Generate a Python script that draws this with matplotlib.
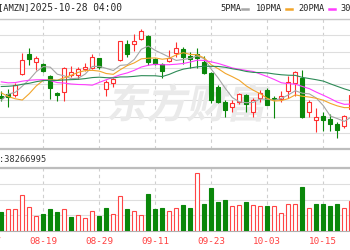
import numpy as np
import matplotlib
matplotlib.use('Agg')
import matplotlib.pyplot as plt
from matplotlib.patches import Rectangle, PathPatch
from matplotlib.lines import Line2D
from matplotlib.textpath import TextPath
from matplotlib.font_manager import FontProperties
from matplotlib.transforms import Affine2D, IdentityTransform, blended_transform_factory

# daily bars, 2025-08-11 .. 2025-10-21
open_ = [221.8, 222.2, 222.0, 227.2, 232.4, 230.3, 229.8, 226.9, 222.4, 222.8,
         227.1, 227.1, 228.6, 228.8, 231.3, 223.5, 224.9, 230.9, 234.9, 234.9,
         236.3, 237.1, 231.1, 229.8, 230.6, 232.6, 233.7, 232.0, 232.4, 230.5,
         227.5, 224.1, 220.1, 218.9, 220.1, 221.9, 217.7, 221.1, 223.2, 221.0,
         220.9, 222.9, 224.9, 226.2, 217.7, 215.5, 216.6, 215.7, 214.6, 213.9, 218.4]
high = [222.9, 223.4, 225.0, 232.8, 234.0, 231.9, 230.2, 227.1, 222.6, 229.2,
        229.4, 229.0, 230.1, 232.4, 231.5, 225.8, 226.2, 235.8, 236.0, 237.5,
        238.8, 237.3, 231.5, 230.2, 233.4, 235.6, 234.3, 232.9, 234.0, 232.0,
        227.8, 224.5, 220.7, 220.7, 222.5, 222.1, 221.1, 223.2, 223.8, 221.7,
        222.9, 226.7, 228.2, 228.3, 220.7, 218.6, 217.7, 217.0, 215.1, 216.8, 223.3]
low = [220.4, 219.0, 221.4, 227.0, 229.6, 228.3, 227.8, 220.9, 220.4, 220.4,
       226.6, 226.0, 228.1, 228.5, 228.6, 221.7, 224.1, 230.7, 231.7, 233.2,
       236.0, 229.6, 229.6, 226.4, 230.5, 231.7, 229.8, 228.8, 228.8, 227.3,
       219.9, 219.8, 216.4, 217.7, 219.6, 217.7, 216.4, 220.2, 219.4, 216.0,
       220.2, 221.2, 221.8, 216.0, 216.4, 212.6, 212.7, 212.8, 211.0, 213.6, 218.0]
close = [221.30, 221.47, 224.56, 230.98, 231.03, 231.49, 228.01, 223.81, 221.95, 228.84,
         227.94, 228.71, 229.12, 231.60, 229.00, 225.34, 225.99, 235.68, 232.33, 235.84,
         238.24, 230.33, 229.95, 228.15, 231.43, 234.05, 231.62, 231.23, 231.48, 227.63,
         220.71, 220.21, 218.15, 219.78, 222.17, 219.57, 220.63, 222.41, 219.51, 220.90,
         221.78, 225.22, 227.74, 216.37, 220.07, 216.39, 215.57, 214.47, 213.04, 216.48, 222.03]
prev_close = 222.69

# volume, millions
volume = [31.8, 37.4, 37.4, 61.2, 40.8, 26.0, 29.4, 37.4, 32.8, 37.4,
          23.8, 27.2, 21.6, 34.0, 26.0, 38.6, 29.4, 60.0, 37.4, 34.0,
          27.2, 62.4, 37.4, 38.6, 34.0, 38.6, 44.2, 38.6, 98.0, 46.4,
          72.6, 49.8, 52.2, 42.0, 44.2, 49.8, 44.2, 42.0, 43.0, 43.0,
          30.6, 46.4, 46.4, 74.8, 38.6, 46.4, 46.4, 43.0, 46.4, 38.6, 51.0]

ma5 = [220.64, 222.18, 222.63, 224.20, 225.87, 227.91, 229.21, 229.06, 227.26, 226.82,
       226.11, 226.25, 227.31, 229.24, 229.27, 228.75, 228.21, 229.52, 229.67, 231.04,
       233.62, 234.48, 233.34, 232.50, 231.62, 230.78, 231.04, 231.30, 231.96, 231.20,
       228.53, 226.25, 223.64, 221.30, 220.20, 219.98, 220.06, 220.91, 220.86, 220.60,
       221.05, 221.96, 223.03, 222.40, 222.24, 221.16, 219.23, 216.57, 215.91, 215.19, 216.32]
ma10 = [222.49, 221.54, 220.97, 220.66, 222.29, 224.27, 225.70, 225.85, 225.73, 226.34,
        227.01, 227.73, 228.19, 228.25, 228.05, 227.43, 227.23, 228.42, 229.46, 230.16,
        231.19, 231.35, 231.43, 231.09, 231.33, 232.20, 232.76, 232.32, 232.23, 231.41,
        229.66, 228.65, 227.47, 226.63, 225.70, 224.26, 223.16, 222.27, 221.08, 220.40,
        220.51, 221.01, 221.97, 221.63, 221.42, 221.10, 220.60, 219.80, 219.16, 218.71, 218.74]
ma20 = [225.30, 225.05, 225.12, 225.48, 225.72, 225.83, 225.86, 225.64, 225.12, 224.99,
        224.75, 224.63, 224.58, 224.45, 225.17, 225.85, 226.46, 227.13, 227.59, 228.25,
        229.10, 229.54, 229.81, 229.67, 229.69, 229.82, 230.00, 230.37, 230.84, 230.78,
        230.42, 230.00, 229.45, 228.86, 228.52, 228.23, 227.96, 227.30, 226.65, 225.91,
        225.08, 224.83, 224.72, 224.13, 223.56, 222.68, 221.88, 221.04, 220.12, 219.56, 219.62]
ma30 = [224.11, 224.18, 224.32, 224.69, 224.94, 225.35, 225.63, 225.68, 225.67, 225.79,
        225.87, 225.95, 226.14, 226.40, 226.50, 226.37, 226.32, 226.56, 226.57, 226.71,
        226.89, 226.87, 226.86, 226.66, 227.22, 227.97, 228.56, 228.86, 229.14, 229.30,
        229.28, 229.24, 229.03, 228.65, 228.36, 227.96, 227.72, 227.67, 227.59, 227.32,
        227.12, 227.00, 226.96, 226.45, 226.15, 225.85, 225.50, 224.80, 224.15, 223.51, 222.97]

tick_dates = ['2025-08-07', '2025-08-19', '2025-08-29', '2025-09-11', '2025-09-23', '2025-10-03', '2025-10-15']
tick_labels = ['08-07', '08-19', '08-29', '09-11', '09-23', '10-03', '10-15']

RED = '#ff3030'
GREEN = '#0a870a'
MONO = 'DejaVu Sans Mono'

x = np.arange(len(close))
tick_pos = np.busday_count('2025-08-11', tick_dates, holidays=['2025-09-01'])
xlim = (-1.3 / 7, (350 - 1.3) / 7)
ylim = (208.13, 241.38)
vlim = (0, 107.1)

fig = plt.figure(figsize=(3.5, 2.5), dpi=100)
ax = fig.add_axes([0, 0.404, 1, 0.52])
axv = fig.add_axes([0, 0.076, 1, 0.252])

for a in (ax, axv):
    a.set_xlim(*xlim)
    a.tick_params(left=False, bottom=False, labelleft=False, labelbottom=False)
    for s in ('left', 'right'):
        a.spines[s].set_visible(False)
    for p in tick_pos:
        a.axvline(p, color='#cfcfcf', lw=0.8, ls=(0, (3, 3)), zorder=0.5)

# price panel
ax.set_ylim(*ylim)
ax.set_yticks(np.linspace(ylim[0], ylim[1], 9))
ax.yaxis.grid(True, color='#dedede', lw=0.8)
ax.set_axisbelow(True)
ax.spines['top'].set_color('#c8c8c8')
ax.spines['top'].set_linewidth(1.0)
ax.spines['bottom'].set_color('#bdbdbd')
ax.spines['bottom'].set_linewidth(1.6)

# watermark
tp = TextPath((0, 0), '东方财富', size=40,
              prop=FontProperties(family='Noto Sans CJK SC', weight='bold'))
wm = PathPatch(tp, transform=Affine2D().skew_deg(12, 0).translate(106, 250 - 118) + IdentityTransform(),
               facecolor='#eaeaea', edgecolor='none', zorder=1)
ax.add_patch(wm)

w = 0.62
for i in x:
    o, h, l, c = open_[i], high[i], low[i], close[i]
    up = c >= o
    col = RED if up else GREEN
    ax.vlines(i, l, h, color=col, lw=0.8, zorder=3)
    ax.add_patch(Rectangle((i - w / 2, min(o, c)), w, max(abs(c - o), 0.15),
                           facecolor='white' if up else col, edgecolor=col, lw=0.8, zorder=4))

ax.plot(x, ma5, color='#a6a6a6', lw=0.8, zorder=5)
ax.plot(x, ma10, color='#f2a52a', lw=0.8, zorder=5)
ax.plot(x, ma20, color='#ff3cff', lw=0.8, zorder=5)
ax.plot(x, ma30, color='#2e8b57', lw=0.8, zorder=5)

# volume panel
vol_up = np.array(close) >= np.r_[prev_close, close[:-1]]
axv.set_ylim(*vlim)
axv.set_yticks(np.linspace(vlim[0], vlim[1], 5))
axv.yaxis.grid(True, color='#dedede', lw=0.8)
axv.set_axisbelow(True)
axv.spines['top'].set_color('#bdbdbd')
axv.spines['top'].set_linewidth(1.6)
axv.spines['bottom'].set_color('#b0b0b0')
axv.bar(x, volume, width=w, color=['white' if u else GREEN for u in vol_up],
        edgecolor=['#ff4545' if u else GREEN for u in vol_up], linewidth=0.8, zorder=3)

tr = blended_transform_factory(axv.transData, axv.transAxes)
for p, lbl in zip(tick_pos, tick_labels):
    axv.text(p, -0.16, lbl, transform=tr, ha='center', va='center', color='#ff4040',
             family=MONO, size=6.7, clip_on=False)

# header texts
fig.text(-2.5 / 350, 1 - 8 / 250, '[AMZN]', family=MONO, size=6.3, va='center', color='#222222')
fig.text(30 / 350, 1 - 8 / 250, '2025-10-28 04:00', family=MONO, size=6.85, va='center', color='#222222')

legend_items = [('5PMA', 220, 242, '#a6a6a6'), ('10PMA', 256, 286, '#f2a52a'),
                ('20PMA', 298, 329, '#ff3cff'), ('30PMA', 340, 372, '#2e8b57')]
for name, tx, lx, col in legend_items:
    fig.text(tx / 350, 1 - 8.5 / 250, name, family=MONO, size=6.2, va='center', color='#222222')
    fig.add_artist(Line2D([lx / 350, (lx + 6) / 350], [1 - 8.5 / 250] * 2,
                          transform=fig.transFigure, color=col, lw=1.8))

fig.text(-1 / 350, 1 - 159 / 250, ':38266995', family=MONO, size=6.2, va='center', color='#333333')

fig.savefig('out.png', dpi=100)
